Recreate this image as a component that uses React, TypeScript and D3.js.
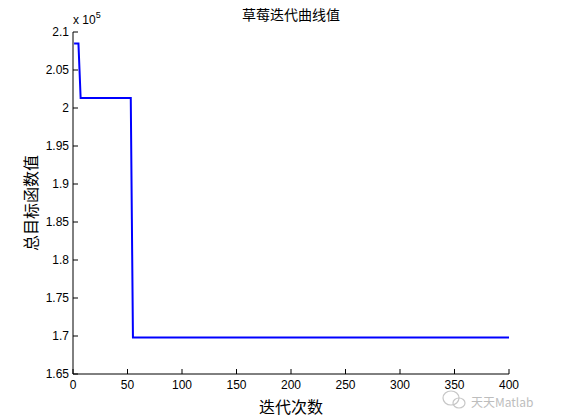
import React from "react";
import * as d3 from "d3";

const iterations = [1, 5, 6, 7, 53, 54, 55, 400];
const objectiveValues = [208500, 208500, 204900, 201300, 201300, 185400, 169800, 169800];
const xTicks = [0, 50, 100, 150, 200, 250, 300, 350, 400];
const yTicks = [1.65, 1.7, 1.75, 1.8, 1.85, 1.9, 1.95, 2, 2.05, 2.1];
const titleText = "草莓迭代曲线值";
const xLabel = "迭代次数";
const yLabel = "总目标函数值";

export default function App() {
  const W = 561, H = 420;
  const left = 73, right = 509, top = 32, bottom = 374;
  const x = d3.scaleLinear().domain([0, 400]).range([left, right]);
  const y = d3.scaleLinear().domain([1.65, 2.1]).range([bottom, top]);
  const line = d3.line<number>()
    .x((_, i) => x(iterations[i]))
    .y((d) => y(d / 1e5));
  const font = "Liberation Sans, Arial, sans-serif";
  const cjk = "Noto Sans CJK SC, sans-serif";
  return (
    <svg width={W} height={H} style={{ position: "absolute", left: 0, top: 0, background: "#fff" }}>
      <rect x={0} y={0} width={W} height={H} fill="#fff" />
      <text x={(left + right) / 2} y={20} textAnchor="middle" fontFamily={cjk} fontSize={14} fill="#000">{titleText}</text>
      <path d={line(objectiveValues) || ""} fill="none" stroke="#0000ff" strokeWidth={2} />
      <line x1={left} x2={left} y1={top} y2={bottom} stroke="#000" />
      <line x1={left} x2={right} y1={bottom} y2={bottom} stroke="#000" />
      {xTicks.map((t) => (
        <g key={"x" + t}>
          <line x1={x(t)} x2={x(t)} y1={bottom} y2={bottom - 5} stroke="#000" />
          <text x={x(t)} y={bottom + 15} textAnchor="middle" fontFamily={font} fontSize={12} fill="#000">{t}</text>
        </g>
      ))}
      {yTicks.map((t) => (
        <g key={"y" + t}>
          <line x1={left} x2={left + 5} y1={y(t)} y2={y(t)} stroke="#000" />
          <text x={left - 4} y={y(t) + 4} textAnchor="end" fontFamily={font} fontSize={12} fill="#000">{String(+t.toFixed(2))}</text>
        </g>
      ))}
      <text x={73} y={24} fontFamily={font} fontSize={12} fill="#000">x 10<tspan dy={-6} fontSize={9}>5</tspan></text>
      <text x={(left + right) / 2} y={413} textAnchor="middle" fontFamily={cjk} fontSize={16} fill="#000">{xLabel}</text>
      <text transform={`translate(37,${(top + bottom) / 2}) rotate(-90)`} textAnchor="middle" fontFamily={cjk} fontSize={16} fill="#000">{yLabel}</text>
      <g opacity={0.55}>
        <ellipse cx={451} cy={398} rx={8} ry={7} fill="none" stroke="#999" strokeWidth={1.2} />
        <ellipse cx={459} cy={403} rx={6} ry={5} fill="none" stroke="#999" strokeWidth={1.2} />
        <text x={471} y={407} fontFamily={cjk} fontSize={12} fill="#888">天天Matlab</text>
      </g>
    </svg>
  );
}
